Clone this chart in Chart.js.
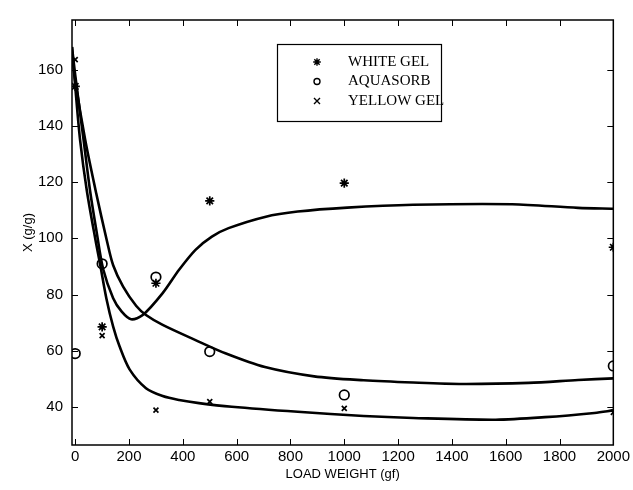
<!DOCTYPE html>
<html>
<head>
<meta charset="utf-8">
<script src="https://cdn.jsdelivr.net/npm/chart.js@4.4.1/dist/chart.umd.min.js"></script>
<style>
html, body { margin: 0; padding: 0; background: #fff; }
#wrap { width: 633px; height: 490px; }
</style>
</head>
<body>
<div id="wrap"><canvas id="chart"></canvas></div>
<script>
// measured points
var seriesNames = ['WHITE GEL', 'AQUASORB', 'YELLOW GEL'];
var loadWeight = [0, 100, 300, 500, 1000, 2000];
var whiteGel = [154, 68.5, 84, 113.3, 119.6, 96.8];
var aquasorb = [59, 90.9, 86.2, 59.7, 44.3, 54.6];
var yellowGel = [163.5, 65.4, 38.9, 41.9, 39.5, 38.1];

// fitted curves
var whiteFitX = [-12, 0, 31, 55, 80, 104, 141, 172, 208, 251, 325, 386, 447, 508, 570, 705, 827, 1011, 1256, 1624, 1869, 2000];
var whiteFitY = [168, 158, 135, 117, 102, 89, 78.7, 74, 71.2, 72.7, 80.5, 88.8, 95.9, 100.6, 103.6, 107.6, 109.5, 110.9, 111.9, 112.1, 110.8, 110.5];
var aquaFitX = [-12, 0, 37, 78, 117, 141, 178, 227, 263, 325, 447, 558, 705, 888, 1072, 1256, 1440, 1685, 1869, 2000];
var aquaFitY = [166, 156, 135, 116, 99.4, 90.4, 82.8, 75.9, 72.7, 69.2, 63.8, 59.1, 54.2, 50.9, 49.5, 48.7, 48.2, 48.6, 49.6, 50.2];
var yellowFitX = [-12, 0, 18, 43, 76, 92, 116, 141, 165, 202, 263, 325, 386, 460, 582, 827, 1072, 1256, 1563, 1746, 1930, 2000];
var yellowFitY = [168, 154, 135, 117, 99, 91, 78.5, 68.6, 61.5, 53.4, 46.7, 43.9, 42.5, 41.4, 40.1, 38.3, 36.8, 36.1, 35.5, 36.4, 37.9, 38.8];

var xTicks = [0, 200, 400, 600, 800, 1000, 1200, 1400, 1600, 1800, 2000];
var yTicks = [40, 60, 80, 100, 120, 140, 160];

function pairs(xs, ys) {
    return xs.map(function (x, i) { return { x: x, y: ys[i] }; });
}

var markerStyles = ['star', 'circle', 'crossRot'];

function pointSet(label, values, style, radius) {
    return {
        type: 'scatter',
        label: label,
        data: pairs(loadWeight, values),
        pointStyle: style,
        pointRadius: radius,
        pointBorderWidth: 1.7,
        borderColor: '#000',
        backgroundColor: 'rgba(0,0,0,0)',
        showLine: false
    };
}

function fitSet(xs, ys) {
    return {
        type: 'line',
        label: '',
        data: pairs(xs, ys),
        borderColor: '#000',
        borderWidth: 2.6,
        pointRadius: 0,
        fill: false,
        tension: 0.3
    };
}

// box with inward ticks on all sides
var framePlugin = {
    id: 'frame',
    afterDatasetsDraw: function (chart) {
        var a = chart.chartArea, ctx = chart.ctx;
        var xs = chart.scales.x, ys = chart.scales.y;
        ctx.save();
        ctx.strokeStyle = '#000';
        ctx.lineWidth = 1.5;
        ctx.strokeRect(a.left, a.top, a.right - a.left, a.bottom - a.top);
        ctx.lineWidth = 1;
        ctx.beginPath();
        xs.ticks.forEach(function (t) {
            var p = Math.round(xs.getPixelForValue(t.value)) + 0.5;
            ctx.moveTo(p, a.bottom); ctx.lineTo(p, a.bottom - 6);
            ctx.moveTo(p, a.top); ctx.lineTo(p, a.top + 6);
        });
        ys.ticks.forEach(function (t) {
            var p = Math.round(ys.getPixelForValue(t.value)) + 0.5;
            ctx.moveTo(a.left, p); ctx.lineTo(a.left + 6, p);
            ctx.moveTo(a.right, p); ctx.lineTo(a.right - 6, p);
        });
        ctx.stroke();
        ctx.restore();
    }
};

function drawMarker(ctx, style, x, y, r) {
    ctx.beginPath();
    if (style === 'circle') {
        ctx.arc(x, y, r, 0, Math.PI * 2);
    } else if (style === 'crossRot') {
        ctx.moveTo(x - r, y - r); ctx.lineTo(x + r, y + r);
        ctx.moveTo(x + r, y - r); ctx.lineTo(x - r, y + r);
    } else {
        var d = r * 0.7;
        ctx.moveTo(x - r, y); ctx.lineTo(x + r, y);
        ctx.moveTo(x, y - r); ctx.lineTo(x, y + r);
        ctx.moveTo(x - d, y - d); ctx.lineTo(x + d, y + d);
        ctx.moveTo(x + d, y - d); ctx.lineTo(x - d, y + d);
    }
    ctx.stroke();
}

var legendPlugin = {
    id: 'boxLegend',
    afterDraw: function (chart) {
        var ctx = chart.ctx;
        var left = 277, top = 44, w = 164, h = 77;
        ctx.save();
        ctx.strokeStyle = '#000';
        ctx.lineWidth = 1.2;
        ctx.strokeRect(left + 0.5, top + 0.5, w, h);
        ctx.fillStyle = '#000';
        ctx.font = '15px "Liberation Serif", "DejaVu Serif", serif';
        ctx.textBaseline = 'middle';
        ctx.textAlign = 'left';
        ctx.lineWidth = 1.4;
        seriesNames.forEach(function (name, i) {
            var y = top + 18 + i * 19.5;
            drawMarker(ctx, markerStyles[i], left + 40, y, markerStyles[i] === 'star' ? 3.8 : 3);
            ctx.fillText(name, left + 71, y);
        });
        ctx.restore();
    }
};

var tickFont = { family: '"Liberation Sans", Arial, sans-serif', size: 15 };
var titleFont = { family: '"Liberation Sans", Arial, sans-serif', size: 13 };

new Chart(document.getElementById('chart'), {
    type: 'scatter',
    data: {
        datasets: [
            pointSet(seriesNames[0], whiteGel, markerStyles[0], 4.6),
            pointSet(seriesNames[1], aquasorb, markerStyles[1], 4.8),
            pointSet(seriesNames[2], yellowGel, markerStyles[2], 3.5),
            fitSet(whiteFitX, whiteFitY),
            fitSet(aquaFitX, aquaFitY),
            fitSet(yellowFitX, yellowFitY)
        ]
    },
    options: {
        responsive: true,
        maintainAspectRatio: false,
        animation: false,
        layout: { padding: { left: 0, right: 15, top: 20, bottom: 0 } },
        plugins: {
            legend: { display: false },
            tooltip: { enabled: false }
        },
        scales: {
            x: {
                type: 'linear',
                min: -12,
                max: 2000,
                afterBuildTicks: function (s) { s.ticks = xTicks.map(function (v) { return { value: v }; }); },
                afterFit: function (s) { s.height = 45; },
                grid: { display: false, drawTicks: false },
                border: { display: false },
                ticks: { color: '#000', font: tickFont, padding: 3, maxRotation: 0, autoSkip: false,
                    callback: function (v) { return String(v); } },
                title: { display: true, text: 'LOAD WEIGHT (gf)', color: '#000', font: titleFont, padding: { top: 0, bottom: 8 } }
            },
            y: {
                type: 'linear',
                min: 26.5,
                max: 177.6,
                afterBuildTicks: function (s) { s.ticks = yTicks.map(function (v) { return { value: v }; }); },
                afterFit: function (s) { s.width = 72; },
                grid: { display: false, drawTicks: false },
                border: { display: false },
                ticks: { color: '#000', font: tickFont, padding: 9, autoSkip: false,
                    callback: function (v) { return String(v); } },
                title: { display: true, text: 'X (g/g)', color: '#000', font: titleFont, padding: { top: 21, bottom: 0 } }
            }
        }
    },
    plugins: [framePlugin, legendPlugin]
});
</script>
</body>
</html>
